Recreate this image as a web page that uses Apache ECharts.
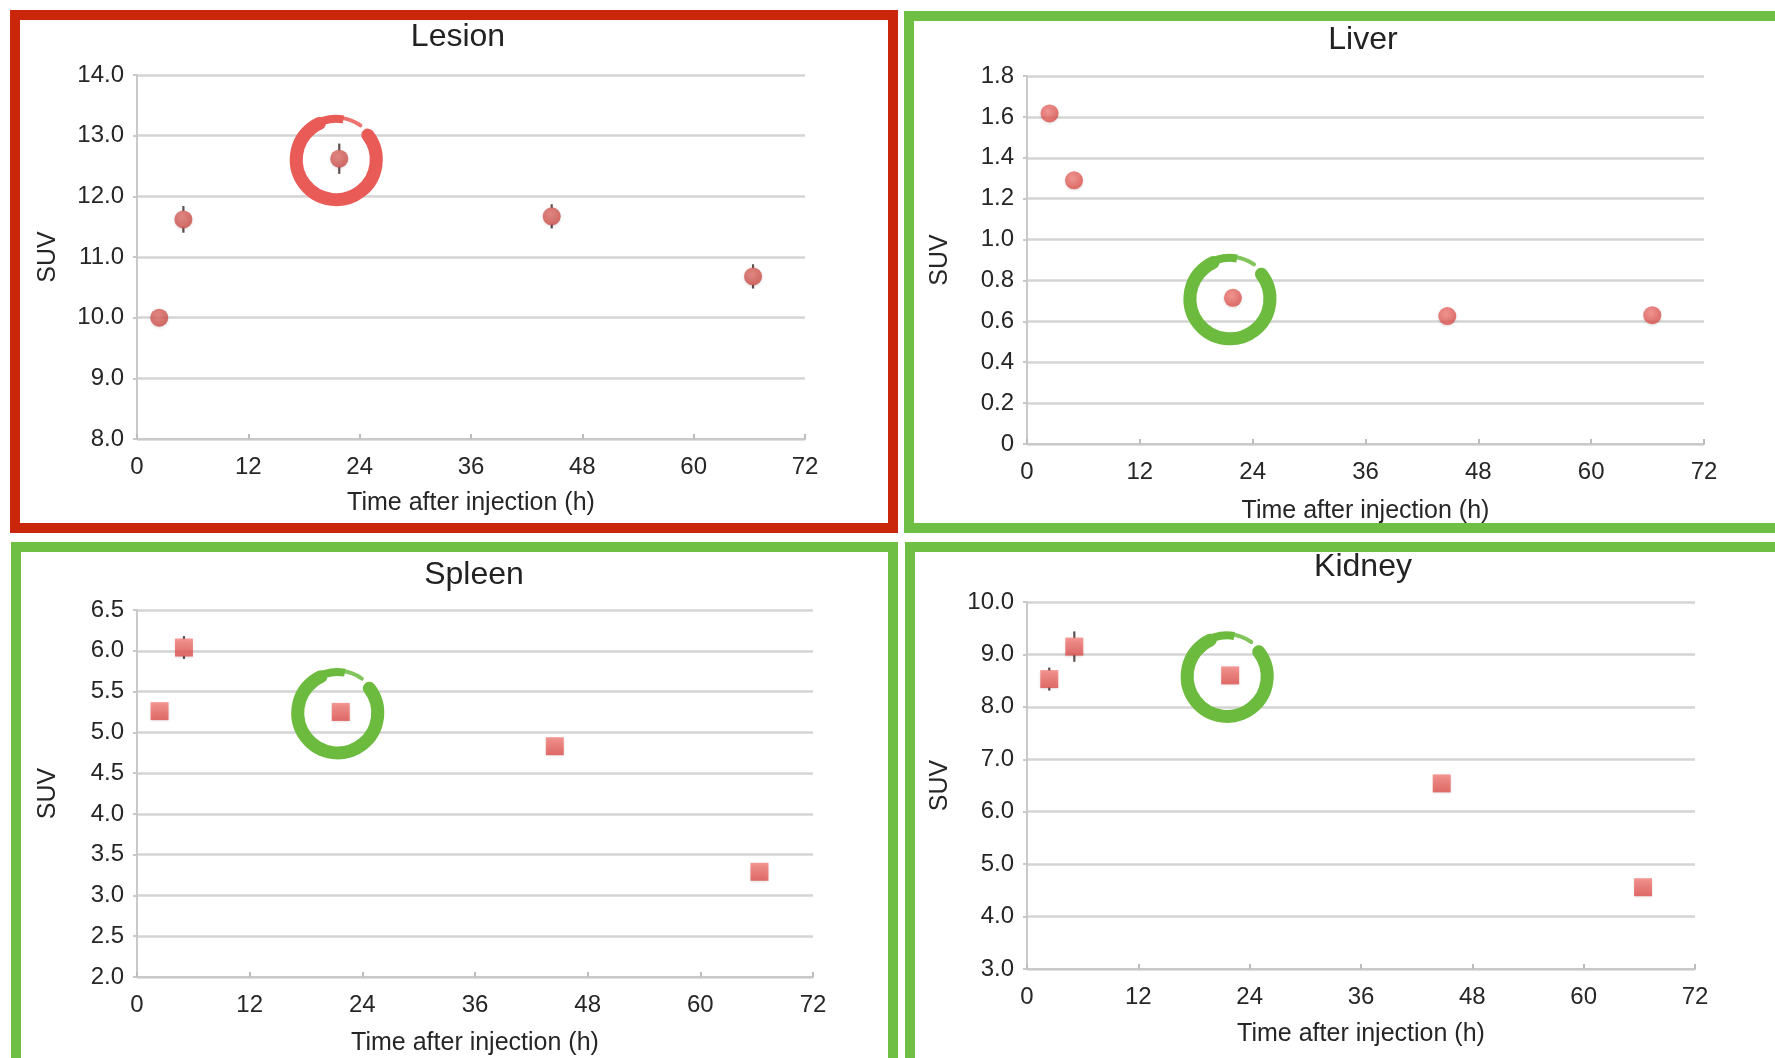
<!DOCTYPE html>
<html>
<head>
<meta charset="utf-8">
<script src="https://cdn.jsdelivr.net/npm/echarts@6/dist/echarts.min.js"></script>
<style>
html,body{margin:0;padding:0;background:#fff;}
#main{width:1775px;height:1058px;}
</style>
</head>
<body>
<div id="main"></div>
<script>
// ---- data ----
const panelTitles = ['Lesion', 'Liver', 'Spleen', 'Kidney'];
const xTicks = [0, 12, 24, 36, 48, 60, 72];

const lesionX = [2.4, 5.0, 21.8, 44.7, 66.4];
const lesionY = [10.0, 11.62, 12.62, 11.67, 10.68];
const lesionErr = [0.06, 0.22, 0.25, 0.2, 0.2];

const liverX = [2.4, 5.0, 21.9, 44.7, 66.5];
const liverY = [1.617, 1.29, 0.715, 0.626, 0.63];
const liverErr = [0.0, 0.0, 0.0, 0.0, 0.0];

const spleenX = [2.4, 5.0, 21.7, 44.5, 66.3];
const spleenY = [5.26, 6.04, 5.25, 4.83, 3.29];
const spleenErr = [0.05, 0.14, 0.05, 0.05, 0.05];

const kidneyX = [2.4, 5.1, 21.9, 44.7, 66.4];
const kidneyY = [8.53, 9.15, 8.6, 6.54, 4.56];
const kidneyErr = [0.22, 0.29, 0.15, 0.1, 0.1];

const lesionYTicks = ['8.0', '9.0', '10.0', '11.0', '12.0', '13.0', '14.0'];
const liverYTicks = ['0', '0.2', '0.4', '0.6', '0.8', '1.0', '1.2', '1.4', '1.6', '1.8'];
const spleenYTicks = ['2.0', '2.5', '3.0', '3.5', '4.0', '4.5', '5.0', '5.5', '6.0', '6.5'];
const kidneyYTicks = ['3.0', '4.0', '5.0', '6.0', '7.0', '8.0', '9.0', '10.0'];

const highlightIndex = 2; // the ~22 h point circled in each panel

// ---- layout/style (not data) ----
const FONT = "'Liberation Sans', Arial, Helvetica, sans-serif";
const MARK = 18;
const panels = [
  {x: lesionX, y: lesionY, err: lesionErr, ticks: lesionYTicks, min: 8, max: 14, interval: 1,
   grid: {left: 137, top: 75, width: 668, height: 364}, titlePos: [453, 16],
   symbol: 'circle', ring: '#E95B57', yGap: 76, xGap: 52},
  {x: liverX, y: liverY, err: liverErr, ticks: liverYTicks, min: 0, max: 1.8, interval: 0.2,
   grid: {left: 1027, top: 76, width: 677, height: 368}, titlePos: [1358, 19],
   symbol: 'circle', ring: '#6CBB3F', yGap: 74, xGap: 55},
  {x: spleenX, y: spleenY, err: spleenErr, ticks: spleenYTicks, min: 2, max: 6.5, interval: 0.5,
   grid: {left: 137, top: 610, width: 676, height: 367}, titlePos: [469, 554],
   symbol: 'rect', ring: '#6CBB3F', yGap: 76, xGap: 54},
  {x: kidneyX, y: kidneyY, err: kidneyErr, ticks: kidneyYTicks, min: 3, max: 10, interval: 1,
   grid: {left: 1027, top: 602, width: 668, height: 367}, titlePos: [1358, 546],
   symbol: 'rect', ring: '#6CBB3F', yGap: 74, xGap: 53}
];

const circleFill = {type: 'radial', x: 0.42, y: 0.38, r: 0.7,
  colorStops: [{offset: 0, color: '#F4837E'}, {offset: 1, color: '#D94843'}]};
const lesionFill = {type: 'radial', x: 0.42, y: 0.38, r: 0.7,
  colorStops: [{offset: 0, color: '#E0726C'}, {offset: 1, color: '#C9453F'}]};
const rectFill = {type: 'linear', x: 0, y: 0, x2: 0, y2: 1,
  colorStops: [{offset: 0, color: '#F4807B'}, {offset: 1, color: '#DE4B47'}]};

const grids = [], xAxes = [], yAxes = [], series = [], titles = [];
panels.forEach((p, i) => {
  grids.push(p.grid);
  titles.push({
    text: panelTitles[i], left: p.titlePos[0], top: p.titlePos[1], textAlign: 'center',
    textStyle: {fontFamily: FONT, fontSize: 32, fontWeight: 'normal', color: '#222'}
  });
  xAxes.push({
    type: 'value', gridIndex: i, min: 0, max: 72, interval: 12,
    name: 'Time after injection (h)', nameLocation: 'middle', nameGap: p.xGap,
    nameTextStyle: {fontFamily: FONT, fontSize: 25, color: '#262626'},
    axisLine: {show: true, lineStyle: {color: '#c9c9c9', width: 2}},
    axisTick: {show: true, length: 5, inside: true, lineStyle: {color: '#bdbdbd', width: 2}},
    axisLabel: {fontFamily: FONT, fontSize: 24, color: '#262626', margin: 16,
      formatter: v => String(xTicks[Math.round(v / 12)])},
    splitLine: {show: false}
  });
  yAxes.push({
    type: 'value', gridIndex: i, min: p.min, max: p.max, interval: p.interval,
    name: 'SUV', nameLocation: 'middle', nameRotate: 90, nameGap: p.yGap,
    nameTextStyle: {fontFamily: FONT, fontSize: 25, color: '#262626'},
    axisLine: {show: true, lineStyle: {color: '#c9c9c9', width: 2}},
    axisTick: {show: true, length: 4, lineStyle: {color: '#c9c9c9', width: 2}},
    axisLabel: {fontFamily: FONT, fontSize: 24, color: '#262626', margin: 13,
      formatter: v => p.ticks[Math.round((v - p.min) / p.interval)]},
    splitLine: {show: true, lineStyle: {color: '#d4d4d4', width: 2.5}}
  });
  // error bars (only the parts outside the marker are visible)
  series.push({
    type: 'custom', xAxisIndex: i, yAxisIndex: i, z: 1, silent: true,
    data: p.x.map((v, j) => [v, p.y[j], p.err[j]]),
    renderItem: (params, api) => {
      const x = api.value(0), y = api.value(1), e = api.value(2);
      const a = api.coord([x, y + e]), c = api.coord([x, y]), b = api.coord([x, y - e]);
      const h = MARK / 2 - 1;
      const kids = [];
      if (c[1] - a[1] > h) kids.push({type: 'line', shape: {x1: a[0], y1: a[1], x2: c[0], y2: c[1] - h},
        style: {stroke: '#5e4e4e', lineWidth: 2.2}});
      if (b[1] - c[1] > h) kids.push({type: 'line', shape: {x1: c[0], y1: c[1] + h, x2: b[0], y2: b[1]},
        style: {stroke: '#5e4e4e', lineWidth: 2.2}});
      return {type: 'group', children: kids};
    }
  });
  // points
  series.push({
    type: 'scatter', xAxisIndex: i, yAxisIndex: i, z: 3,
    symbol: p.symbol, symbolSize: MARK,
    itemStyle: {color: i === 0 ? lesionFill : (p.symbol === 'rect' ? rectFill : circleFill),
      shadowBlur: 3, shadowColor: 'rgba(0,0,0,0.18)', shadowOffsetY: 1},
    data: p.x.map((v, j) => [v, p.y[j]])
  });
  // hand-drawn annotation ring around the circled point
  series.push({
    type: 'custom', xAxisIndex: i, yAxisIndex: i, z: 4, silent: true,
    data: [[p.x[highlightIndex], p.y[highlightIndex]]],
    renderItem: (params, api) => {
      const c = api.coord([api.value(0), api.value(1)]);
      const cx = c[0] - 3, cy = c[1] + 1, r = 40;
      const d = Math.PI / 180;
      return {type: 'group', children: [
        {type: 'arc', shape: {cx, cy, r, startAngle: -38 * d, endAngle: 245 * d, clockwise: true},
          style: {stroke: p.ring, lineWidth: 13, fill: null, lineCap: 'round'}},
        {type: 'arc', shape: {cx, cy, r: r + 1, startAngle: 235 * d, endAngle: 280 * d, clockwise: true},
          style: {stroke: p.ring, lineWidth: 8, fill: null, lineCap: 'butt'}},
        {type: 'arc', shape: {cx, cy, r: r + 2, startAngle: 275 * d, endAngle: 305 * d, clockwise: true},
          style: {stroke: p.ring, lineWidth: 4, fill: null, lineCap: 'round', opacity: 0.85}}
      ]};
    }
  });
});

const RED = '#C9260B', GREEN = '#6FBF45';
const chart = echarts.init(document.getElementById('main'), null, {renderer: 'canvas'});
chart.setOption({
  backgroundColor: '#ffffff',
  animation: false,
  title: titles,
  grid: grids,
  xAxis: xAxes,
  yAxis: yAxes,
  series: series,
  graphic: [
    {type: 'rect', shape: {x: 15, y: 15, width: 878, height: 513}, style: {fill: null, stroke: RED, lineWidth: 10}, z: 10},
    {type: 'rect', shape: {x: 909, y: 16, width: 880, height: 512}, style: {fill: null, stroke: GREEN, lineWidth: 10}, z: 10},
    {type: 'rect', shape: {x: 16, y: 547, width: 877, height: 520}, style: {fill: null, stroke: GREEN, lineWidth: 10}, z: 10},
    {type: 'rect', shape: {x: 910, y: 547, width: 880, height: 520}, style: {fill: null, stroke: GREEN, lineWidth: 10}, z: 10}
  ]
});
</script>
</body>
</html>
